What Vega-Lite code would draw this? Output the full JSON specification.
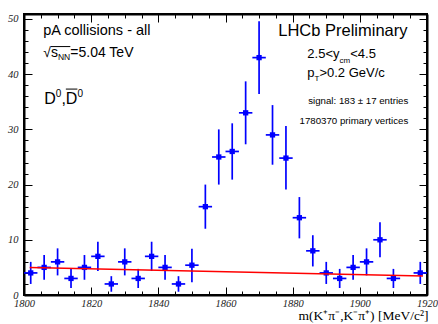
{
  "$schema": "https://vega.github.io/schema/vega-lite/v6.json",
  "width": 403,
  "height": 281,
  "autosize": {"type": "none"},
  "padding": {"left": 24, "top": 14, "right": 11, "bottom": 29},
  "background": "white",
  "config": {"view": {"stroke": "black", "strokeWidth": 2}},
  "datasets": {
    "pts": [
      {"m": 1802, "n": 4, "lo": 2.0, "hi": 6.0, "ml": 1800, "mh": 1804},
      {"m": 1806, "n": 5, "lo": 2.76, "hi": 7.24, "ml": 1804, "mh": 1808},
      {"m": 1810, "n": 6, "lo": 3.55, "hi": 8.45, "ml": 1808, "mh": 1812},
      {"m": 1814, "n": 3, "lo": 1.27, "hi": 4.73, "ml": 1812, "mh": 1816},
      {"m": 1818, "n": 5, "lo": 2.76, "hi": 7.24, "ml": 1816, "mh": 1820},
      {"m": 1822, "n": 7, "lo": 4.35, "hi": 9.65, "ml": 1820, "mh": 1824},
      {"m": 1826, "n": 2, "lo": 0.59, "hi": 3.41, "ml": 1824, "mh": 1828},
      {"m": 1830, "n": 6, "lo": 3.55, "hi": 8.45, "ml": 1828, "mh": 1832},
      {"m": 1834, "n": 3, "lo": 1.27, "hi": 4.73, "ml": 1832, "mh": 1836},
      {"m": 1838, "n": 7, "lo": 4.35, "hi": 9.65, "ml": 1836, "mh": 1840},
      {"m": 1842, "n": 5, "lo": 2.76, "hi": 7.24, "ml": 1840, "mh": 1844},
      {"m": 1846, "n": 2, "lo": 0.59, "hi": 3.41, "ml": 1844, "mh": 1848},
      {"m": 1850, "n": 5.4, "lo": 2.3, "hi": 8.4, "ml": 1848, "mh": 1852},
      {"m": 1854, "n": 16, "lo": 12.0, "hi": 20.0, "ml": 1852, "mh": 1856},
      {"m": 1858, "n": 25, "lo": 20.0, "hi": 30.0, "ml": 1856, "mh": 1860},
      {"m": 1862, "n": 26, "lo": 20.9, "hi": 31.1, "ml": 1860, "mh": 1864},
      {"m": 1866, "n": 33, "lo": 27.3, "hi": 38.7, "ml": 1864, "mh": 1868},
      {"m": 1870, "n": 43, "lo": 36.4, "hi": 49.6, "ml": 1868, "mh": 1872},
      {"m": 1874, "n": 29, "lo": 23.6, "hi": 34.4, "ml": 1872, "mh": 1876},
      {"m": 1878, "n": 24.8, "lo": 19.1, "hi": 30.6, "ml": 1876, "mh": 1880},
      {"m": 1882, "n": 14, "lo": 10.26, "hi": 17.74, "ml": 1880, "mh": 1884},
      {"m": 1886, "n": 8, "lo": 5.17, "hi": 10.83, "ml": 1884, "mh": 1888},
      {"m": 1890, "n": 4, "lo": 2.0, "hi": 6.0, "ml": 1888, "mh": 1892},
      {"m": 1894, "n": 3, "lo": 1.27, "hi": 4.73, "ml": 1892, "mh": 1896},
      {"m": 1898, "n": 5, "lo": 2.76, "hi": 7.24, "ml": 1896, "mh": 1900},
      {"m": 1902, "n": 6, "lo": 3.55, "hi": 8.45, "ml": 1900, "mh": 1904},
      {"m": 1906, "n": 10, "lo": 6.84, "hi": 13.16, "ml": 1904, "mh": 1908},
      {"m": 1910, "n": 3, "lo": 1.27, "hi": 4.73, "ml": 1908, "mh": 1912},
      {"m": 1918, "n": 4, "lo": 2.0, "hi": 6.0, "ml": 1916, "mh": 1920}
    ],
    "fit": [
      {"m": 1801.7, "n": 5.0},
      {"m": 1918.8, "n": 3.45}
    ],
    "t145": [
      {"x": 1805.75, "y": 47.1, "t": "pA collisions - all"}
    ],
    "t14": [
      {"x": 1805.75, "y": 43.1, "t": "√s"},
      {"x": 1813.79, "y": 43.1, "t": "=5.04 TeV"}
    ],
    "tnn": [
      {"x": 1810.12, "y": 42.55, "t": "NN"}
    ],
    "t8": [
      {"x": 1893.95, "y": 42.1, "t": "cm"},
      {"x": 1886.5, "y": 38.76, "t": "T"}
    ],
    "t16": [
      {"x": 1806.04, "y": 34.6, "t": "D"},
      {"x": 1811.14, "y": 34.6, "t": ","},
      {"x": 1812.46, "y": 34.6, "t": "D"}
    ],
    "t10": [
      {"x": 1809.48, "y": 35.8, "t": "0"},
      {"x": 1815.9, "y": 35.8, "t": "0"}
    ],
    "t165": [
      {"x": 1914.2, "y": 46.9, "t": "LHCb Preliminary"}
    ],
    "t13": [
      {"x": 1884.36, "y": 42.9, "t": "2.5<y"},
      {"x": 1897.13, "y": 42.9, "t": "<4.5"},
      {"x": 1884.36, "y": 39.4, "t": "p"},
      {"x": 1887.96, "y": 39.4, "t": ">0.2 GeV/c"}
    ],
    "tsm": [
      {"x": 1914.43, "y": 34.6, "t": "signal: 183 ± 17 entries"},
      {"x": 1914.43, "y": 31.0, "t": "1780370 primary vertices"}
    ],
    "bars": [
      {"x": 1808.04, "x2": 1813.79, "y": 45.0},
      {"x": 1812.46, "x2": 1815.9, "y": 37.3}
    ]
  },
  "layer": [
    {
      "data": {"name": "pts"},
      "mark": {"type": "rule", "color": "#0000ff", "strokeWidth": 1.7},
      "encoding": {
        "x": {
          "field": "ml", "type": "quantitative",
          "scale": {"domain": [1800, 1920], "nice": false, "zero": false},
          "axis": {
            "orient": "bottom",
            "values": [1800,1805,1810,1815,1820,1825,1830,1835,1840,1845,1850,1855,1860,1865,1870,1875,1880,1885,1890,1895,1900,1905,1910,1915,1920],
            "format": "d",
            "labelExpr": "datum.value % 20 === 0 ? datum.label : ''",
            "tickSize": {"condition": {"test": "datum.value % 20 === 0", "value": -8}, "value": -4},
            "tickColor": "black", "tickWidth": 1,
            "domainColor": "black", "domainWidth": 2,
            "grid": false,
            "labelFont": "Liberation Serif", "labelFontStyle": "italic", "labelFontSize": 10.5,
            "labelColor": "#222", "labelPadding": 11, "labelFlush": false, "labelOverlap": false, "labelBound": false,
            "title": "m(K⁺π⁻,K⁻π⁺) [MeV/c²]",
            "titleFont": "Liberation Serif", "titleFontWeight": "normal", "titleFontSize": 13.5,
            "titleColor": "black", "titleAnchor": "end", "titleAlign": "right", "titleBaseline": "alphabetic",
            "titleX": 404, "titleY": 24
          }
        },
        "x2": {"field": "mh"},
        "y": {
          "field": "n", "type": "quantitative",
          "scale": {"domain": [0, 50.9], "nice": false, "zero": false},
          "axis": {
            "orient": "left",
            "values": [0,2,4,6,8,10,12,14,16,18,20,22,24,26,28,30,32,34,36,38,40,42,44,46,48,50],
            "format": "d",
            "labelExpr": "datum.value % 10 === 0 ? datum.label : ''",
            "tickSize": {"condition": {"test": "datum.value % 10 === 0", "value": -8}, "value": -4},
            "tickColor": "black", "tickWidth": 1,
            "domainColor": "black", "domainWidth": 2,
            "grid": false,
            "labelFont": "Liberation Serif", "labelFontStyle": "italic", "labelFontSize": 10.5,
            "labelColor": "#222", "labelPadding": 14, "labelFlush": false, "labelOverlap": false, "labelBound": false,
            "title": null
          }
        }
      }
    },
    {
      "data": {"name": "pts"},
      "mark": {"type": "rule", "color": "#0000ff", "strokeWidth": 1.7},
      "encoding": {
        "x": {"field": "m", "type": "quantitative", "axis": null},
        "y": {"field": "lo", "type": "quantitative", "axis": null},
        "y2": {"field": "hi"}
      }
    },
    {
      "data": {"name": "pts"},
      "mark": {"type": "square", "color": "#0000ff", "filled": true, "opacity": 1, "size": 28},
      "encoding": {
        "x": {"field": "m", "type": "quantitative", "axis": null},
        "y": {"field": "n", "type": "quantitative", "axis": null}
      }
    },
    {
      "data": {"name": "fit"},
      "mark": {"type": "line", "color": "#ff0000", "strokeWidth": 1.5},
      "encoding": {
        "x": {
          "field": "m", "type": "quantitative",
          "axis": {
            "orient": "top",
            "values": [1800,1805,1810,1815,1820,1825,1830,1835,1840,1845,1850,1855,1860,1865,1870,1875,1880,1885,1890,1895,1900,1905,1910,1915,1920],
            "labels": false,
            "tickSize": {"condition": {"test": "datum.value % 20 === 0", "value": -8}, "value": -4},
            "tickColor": "black", "tickWidth": 1,
            "domainColor": "black", "domainWidth": 2,
            "grid": false, "title": null
          }
        },
        "y": {
          "field": "n", "type": "quantitative",
          "axis": {
            "orient": "right",
            "values": [0,2,4,6,8,10,12,14,16,18,20,22,24,26,28,30,32,34,36,38,40,42,44,46,48,50],
            "labels": false,
            "tickSize": {"condition": {"test": "datum.value % 10 === 0", "value": -8}, "value": -4},
            "tickColor": "black", "tickWidth": 1,
            "domainColor": "black", "domainWidth": 2,
            "grid": false, "title": null
          }
        }
      }
    },
    {
      "data": {"name": "bars"},
      "mark": {"type": "rule", "color": "black", "strokeWidth": 1},
      "encoding": {
        "x": {"field": "x", "type": "quantitative", "axis": null},
        "x2": {"field": "x2"},
        "y": {"field": "y", "type": "quantitative", "axis": null}
      }
    },
    {
      "data": {"name": "t145"},
      "mark": {"type": "text", "font": "Liberation Sans", "fontSize": 14.5, "align": "left", "baseline": "alphabetic", "color": "black"},
      "encoding": {
        "x": {"field": "x", "type": "quantitative", "axis": null},
        "y": {"field": "y", "type": "quantitative", "axis": null},
        "text": {"field": "t"}
      }
    },
    {
      "data": {"name": "t14"},
      "mark": {"type": "text", "font": "Liberation Sans", "fontSize": 14, "align": "left", "baseline": "alphabetic", "color": "black"},
      "encoding": {
        "x": {"field": "x", "type": "quantitative", "axis": null},
        "y": {"field": "y", "type": "quantitative", "axis": null},
        "text": {"field": "t"}
      }
    },
    {
      "data": {"name": "tnn"},
      "mark": {"type": "text", "font": "Liberation Sans", "fontSize": 8.5, "align": "left", "baseline": "alphabetic", "color": "black"},
      "encoding": {
        "x": {"field": "x", "type": "quantitative", "axis": null},
        "y": {"field": "y", "type": "quantitative", "axis": null},
        "text": {"field": "t"}
      }
    },
    {
      "data": {"name": "t8"},
      "mark": {"type": "text", "font": "Liberation Sans", "fontSize": 8, "align": "left", "baseline": "alphabetic", "color": "black"},
      "encoding": {
        "x": {"field": "x", "type": "quantitative", "axis": null},
        "y": {"field": "y", "type": "quantitative", "axis": null},
        "text": {"field": "t"}
      }
    },
    {
      "data": {"name": "t16"},
      "mark": {"type": "text", "font": "Liberation Sans", "fontSize": 16, "align": "left", "baseline": "alphabetic", "color": "black"},
      "encoding": {
        "x": {"field": "x", "type": "quantitative", "axis": null},
        "y": {"field": "y", "type": "quantitative", "axis": null},
        "text": {"field": "t"}
      }
    },
    {
      "data": {"name": "t10"},
      "mark": {"type": "text", "font": "Liberation Sans", "fontSize": 10, "align": "left", "baseline": "alphabetic", "color": "black"},
      "encoding": {
        "x": {"field": "x", "type": "quantitative", "axis": null},
        "y": {"field": "y", "type": "quantitative", "axis": null},
        "text": {"field": "t"}
      }
    },
    {
      "data": {"name": "t165"},
      "mark": {"type": "text", "font": "Liberation Sans", "fontSize": 16.5, "align": "right", "baseline": "alphabetic", "color": "black"},
      "encoding": {
        "x": {"field": "x", "type": "quantitative", "axis": null},
        "y": {"field": "y", "type": "quantitative", "axis": null},
        "text": {"field": "t"}
      }
    },
    {
      "data": {"name": "t13"},
      "mark": {"type": "text", "font": "Liberation Sans", "fontSize": 13, "align": "left", "baseline": "alphabetic", "color": "black"},
      "encoding": {
        "x": {"field": "x", "type": "quantitative", "axis": null},
        "y": {"field": "y", "type": "quantitative", "axis": null},
        "text": {"field": "t"}
      }
    },
    {
      "data": {"name": "tsm"},
      "mark": {"type": "text", "font": "Liberation Sans", "fontSize": 9.7, "align": "right", "baseline": "alphabetic", "color": "black"},
      "encoding": {
        "x": {"field": "x", "type": "quantitative", "axis": null},
        "y": {"field": "y", "type": "quantitative", "axis": null},
        "text": {"field": "t"}
      }
    }
  ],
  "resolve": {"axis": {"x": "independent", "y": "independent"}}
}
